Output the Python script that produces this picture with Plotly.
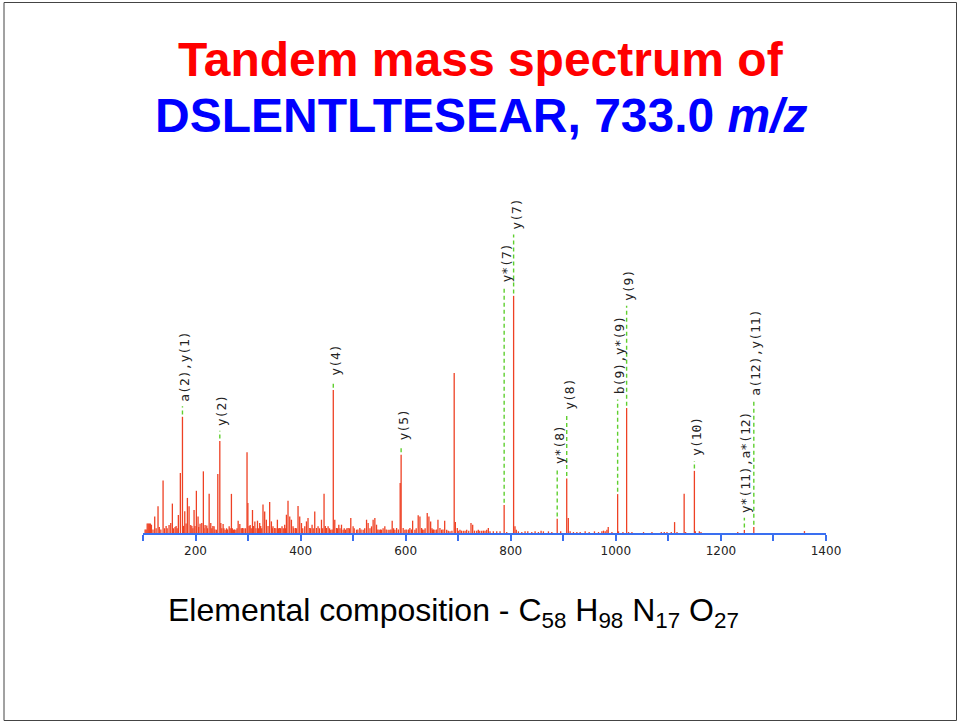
import plotly.graph_objects as go

# ---- annotated fragment ions (m/z, relative intensity, label) ----
ion_labels = ["a(2),y(1)", "y(2)", "y(4)", "y(5)", "y*(7)", "y(7)", "y*(8)", "y(8)",
              "b(9),y*(9)", "y(9)", "y(10)", "y*(11),a*(12)", "a(12),y(11)"]
ion_mz = [175.1, 246.2, 462.2, 591.3, 787.4, 805.4, 888.4, 906.5,
          1003.4, 1020.5, 1149.5, 1244.6, 1262.6]
ion_int = [49.0, 38.8, 60.3, 33.0, 11.8, 100.0, 6.0, 23.0,
           16.4, 52.7, 26.2, 1.3, 2.5]

# ---- other peaks in the spectrum ----
peak_mz = [
    104, 106, 108, 110, 112, 114, 116, 119, 122.3, 125, 128.6, 131, 134, 138.2, 141, 144, 146,
    149.6, 152.8, 155.9, 158, 161, 163, 165, 167.3, 171.1, 177, 179.5, 182, 184.5, 187.7,
    190.9, 193, 195, 197.2, 199, 201.6, 204.8, 206, 208.6, 211.9, 214.9, 216, 218.2, 221.4,
    223, 225.9, 229, 231, 233, 235.3, 237, 239.8, 242.4, 248.1, 250, 252.5, 254, 256.3, 259,
    261, 264, 266, 268.3, 270, 272.2, 274, 276.8, 279, 281.1, 284.3, 287, 289.3, 292, 295,
    298.0, 299.6, 302, 304, 306, 308.4, 310, 312.9, 315, 317.9, 320, 322.1, 324, 326, 328.4,
    331.6, 334.8, 338, 341.1, 344.4, 346, 347.4, 350.7, 353, 355.8, 358, 360.2, 362, 364.6,
    367, 369.7, 371, 373, 376, 379.3, 382.5, 385.6, 387, 390.1, 392, 395.1, 398.3, 401.6,
    404, 407.9, 411.1, 414.1, 417.4, 419, 421.8, 424, 426.9, 430.2, 433.2, 436, 439.7, 442,
    444.6, 447, 449.2, 452.3, 455, 457.4, 460, 465, 468.3, 470, 472.7, 475, 477.8, 480.9,
    483, 485.4, 488, 490.4, 493, 495.5, 499.9, 502, 506.4, 509, 512.7, 515, 519, 522, 525.5,
    528.5, 532, 535, 538, 541.3, 544.5, 547, 549.5, 552, 554, 557, 560.3, 563, 566.6, 569.9,
    572, 574.3, 577, 579.4, 582.7, 586, 589.5, 595.2, 598.5, 601, 604.8, 606, 608, 611,
    613.2, 617.5, 620, 623.8, 627.1, 630.3, 632, 634.7, 637, 641, 644.2, 647.5, 650, 651.3,
    653, 655.7, 659, 661.4, 665.2, 668.4, 671, 674.2, 678, 681, 684.3, 688, 692.3, 694.5,
    698.2, 700, 703.3, 706, 709.6, 713, 716.1, 720, 724.3, 727.5, 731, 735.2, 738.2, 741,
    744.7, 748, 751, 754.2, 757.3, 760.5, 766.8, 773.3, 779.6, 792.3, 808, 810.5, 814.5, 821,
    827.2, 832.4, 840, 846.3, 852.6, 857.7, 862.1, 871.7, 878.1, 895, 909.5, 913, 919.3,
    925.8, 932.1, 941.6, 949.2, 959.3, 967, 973.4, 976.5, 979.7, 983, 985.5, 992.5, 1005,
    1013.5, 1024.2, 1030.6, 1052.7, 1068.7, 1086.5, 1092.2, 1097.3, 1105.5, 1111.8, 1116.4,
    1130.0, 1132.8, 1151.3, 1158.9, 1162.1, 1232, 1359,
]
peak_int = [
    1.5, 1.5, 4.0, 4.0, 4.0, 4.0, 3.5, 1.5, 7.0, 2.0, 11.3, 2.5, 1.5, 22.1, 2.0, 3.0, 2.0,
    3.4, 4.2, 12.4, 2.0, 2.5, 3.0, 2.0, 7.6, 25.3, 3.0, 9.2, 4.0, 14.8, 11.3,
    3.4, 3.0, 2.0, 9.7, 3.0, 17.8, 7.0, 2.5, 3.9, 4.2, 26.0, 2.0, 3.4, 3.2,
    2.0, 16.5, 4.2, 2.0, 3.0, 2.8, 1.5, 1.4, 24.9, 4.2, 2.0, 3.8, 2.0, 1.4, 2.0,
    1.5, 2.8, 2.0, 16.5, 2.0, 1.4, 1.5, 1.4, 2.0, 5.2, 3.8, 2.0, 2.1, 2.0, 2.0,
    34.0, 12.7, 3.0, 3.4, 2.0, 9.7, 3.0, 4.9, 2.0, 5.2, 2.0, 4.2, 3.0, 2.0, 12.0,
    9.1, 5.6, 3.0, 13.1, 4.9, 2.0, 2.8, 2.1, 2.0, 5.6, 2.0, 2.1, 2.0, 2.8,
    2.0, 3.5, 2.0, 7.7, 13.6, 7.0, 5.6, 2.8, 2.0, 2.1, 2.0, 11.4, 7.0, 4.2,
    2.0, 2.8, 4.9, 6.3, 2.1, 2.0, 3.5, 2.0, 9.1, 2.1, 2.8, 2.0, 5.6, 2.0,
    16.5, 3.0, 2.1, 2.8, 2.0, 1.4, 1.5, 5.6, 2.1, 2.0, 3.5, 2.0, 3.5, 1.4,
    2.0, 1.4, 2.0, 2.1, 2.0, 6.3, 2.8, 2.0, 1.4, 1.5, 2.1, 1.5, 1.4, 2.0, 5.6,
    4.2, 2.0, 2.8, 5.6, 6.3, 3.5, 1.5, 1.4, 1.5, 1.4, 2.0, 2.8, 1.5, 1.4, 1.4,
    1.5, 5.2, 2.0, 1.4, 2.1, 1.5, 21.1, 2.1, 1.4, 1.5, 1.4, 1.5, 2.1, 1.5,
    5.2, 1.4, 2.0, 7.5, 7.0, 2.1, 1.5, 1.4, 2.0, 8.4, 7.0, 4.9, 2.0, 1.4,
    1.5, 1.4, 1.5, 5.6, 2.1, 1.4, 1.5, 5.2, 1.4, 1.0, 0.7, 1.0, 67.5, 4.6,
    2.1, 1.0, 1.4, 1.0, 1.0, 1.0, 1.4, 1.0, 4.2, 3.5, 1.0, 1.0, 1.4, 1.0,
    1.0, 1.0, 1.0, 1.4, 2.1, 0.7, 0.7, 0.7, 0.7, 0.4, 2.8, 1.4, 0.7, 0.4,
    0.7, 0.7, 0.4, 0.7, 0.4, 1.0, 0.7, 0.7, 0.4, 0.7, 6.3, 0.7, 0.4,
    0.4, 0.4, 0.7, 0.4, 0.7, 0.4, 0.7, 1.0, 0.7, 1.4, 2.5, 0.4, 0.7,
    0.4, 0.4, 0.4, 0.4, 0.4, 0.4, 0.4, 0.4, 0.4, 4.6, 0.4,
    16.6, 0.4, 0.7, 0.7, 0.4, 0.4, 0.8,
]

# height (intensity units) at which each ion label starts, staggered to avoid overlaps
label_base = [54.7, 44.3, 65.4, 38.0, 104.6, 127.1, 28.0, 51.2, 57.5, 97.0, 31.6, 7.6, 57.0]

major_ticks = list(range(200, 1401, 200))

# ---- layout geometry (pixels) ----
W, H = 960, 723
ML, MR, MT, MB = 143, 134, 201, 190
Y_MAX = 140


def paper_x(px):
    return (px - ML) / (W - ML - MR)


def paper_y(py):
    return (H - MB - py) / (H - MT - MB)


RED = "#ee4124"
GREEN = "#5fcf2f"
BLUE = "#3a6ff0"

all_mz = peak_mz + ion_mz
all_int = peak_int + ion_int
sx, sy = [], []
for m, v in zip(all_mz, all_int):
    sx += [m, m, None]
    sy += [0, v, None]

dx, dy = [], []
for m, v, b in zip(ion_mz, ion_int, label_base):
    dx += [m, m, None]
    dy += [v + 1.0, b - 1.2, None]

fig = go.Figure()
fig.add_trace(go.Scatter(x=sx, y=sy, mode="lines", line=dict(color=RED, width=1.3),
                         hoverinfo="skip", showlegend=False))
fig.add_trace(go.Scatter(x=dx, y=dy, mode="lines",
                         line=dict(color=GREEN, width=1.4, dash="4px,3px"),
                         hoverinfo="skip", showlegend=False, cliponaxis=False))

for lab, m, b in zip(ion_labels, ion_mz, label_base):
    fig.add_annotation(x=m, y=b, xref="x", yref="y", text=lab, textangle=-90,
                       showarrow=False, xanchor="center", yanchor="bottom", xshift=2,
                       font=dict(family="DejaVu Sans Mono", size=13, color="#222222"))

# title lines
fig.add_annotation(x=paper_x(481), y=paper_y(59), xref="paper", yref="paper",
                   text="<b>Tandem mass spectrum of</b>", showarrow=False,
                   xanchor="center", yanchor="middle",
                   font=dict(family="Liberation Sans", size=48, color="#ff0000"))
fig.add_annotation(x=paper_x(481), y=paper_y(115), xref="paper", yref="paper",
                   text="<b>DSLENTLTESEAR, 733.0 <i>m/z</i></b>", showarrow=False,
                   xanchor="center", yanchor="middle",
                   font=dict(family="Liberation Sans", size=48, color="#0000ff"))

# composition line
fig.add_annotation(x=paper_x(166), y=paper_y(612), xref="paper", yref="paper",
                   text="Elemental composition - C<sub>58</sub> H<sub>98</sub> "
                        "N<sub>17</sub> O<sub>27</sub>",
                   showarrow=False, xanchor="left", yanchor="middle",
                   font=dict(family="Liberation Sans", size=32, color="#000000"))

# slide frame
fig.add_shape(type="rect", xref="paper", yref="paper",
              x0=paper_x(4), x1=paper_x(956.5), y0=paper_y(720.5), y1=paper_y(2.5),
              line=dict(color="#444444", width=1), layer="above")

fig.update_layout(
    width=W, height=H,
    margin=dict(l=ML, r=MR, t=MT, b=MB, pad=0),
    paper_bgcolor="white", plot_bgcolor="white",
    xaxis=dict(range=[100, 1400], tickvals=major_ticks,
               ticks="outside", ticklen=6, tickwidth=2, tickcolor=BLUE,
               minor=dict(tick0=100, dtick=200, ticks="outside", ticklen=6,
                          tickwidth=2, tickcolor=BLUE, showgrid=False),
               showline=True, linecolor=BLUE, linewidth=2, showgrid=False,
               zeroline=False, fixedrange=True,
               tickfont=dict(family="DejaVu Sans", size=12, color="#222222")),
    yaxis=dict(range=[0, Y_MAX], visible=False, fixedrange=True),
    showlegend=False,
)

fig.write_html("out.html", config={"displayModeBar": False})
